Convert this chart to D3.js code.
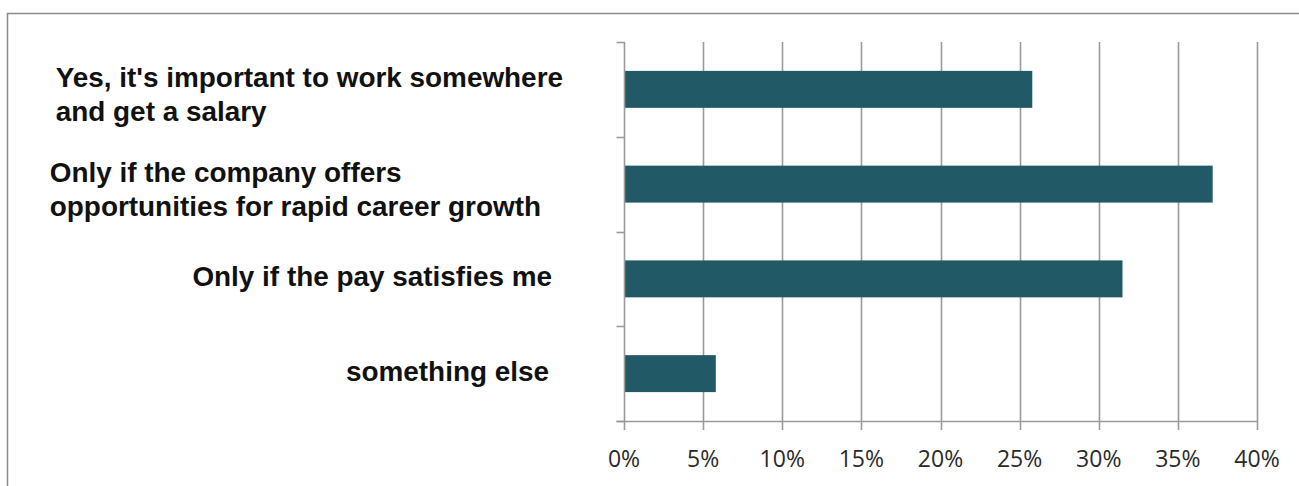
<!DOCTYPE html>
<html>
<head>
<meta charset="utf-8">
<script src="https://cdn.jsdelivr.net/npm/d3@7"></script>
<style>
  html, body { margin: 0; padding: 0; background: #fff; }
  svg { display: block; }
</style>
</head>
<body>
<svg id="chart" width="1299" height="486"></svg>
<script>
// Survey answers (multi-line labels split into lines)
const categories = [
  ["Yes, it's important to work somewhere", "and get a salary"],
  ["Only if the company offers", "opportunities for rapid career growth"],
  ["Only if the pay satisfies me"],
  ["something else"]
];
// Share of respondents per answer
const shares = [0.258, 0.372, 0.315, 0.058];
// Value axis ticks
const tickValues = [0, 0.05, 0.10, 0.15, 0.20, 0.25, 0.30, 0.35, 0.40];
const tickLabels = ["0%", "5%", "10%", "15%", "20%", "25%", "30%", "35%", "40%"];

// Layout
const plot = { left: 624, right: 1257, top: 42, bottom: 421 };
const labelRight = [563, 541, 552, 549];
const barColor = "#225967";
const gridColor = "#9a9a9a";

const svg = d3.select("#chart");

// Outer frame (runs off the right and bottom edges)
svg.append("rect")
  .attr("x", 7.5).attr("y", 13.5)
  .attr("width", 1320).attr("height", 520)
  .attr("fill", "none")
  .attr("stroke", "#8a8a8a")
  .attr("stroke-width", 1.5);

const x = d3.scaleLinear().domain([0, 0.40]).range([plot.left, plot.right]);
const y = d3.scaleBand()
  .domain(d3.range(categories.length))
  .range([plot.top, plot.bottom])
  .paddingInner(0.61)
  .paddingOuter(0.305);

// Vertical gridlines that continue below the axis as tick marks
svg.append("g")
  .selectAll("line")
  .data(tickValues.slice(1))
  .join("line")
  .attr("x1", d => Math.round(x(d)) + 0.5)
  .attr("x2", d => Math.round(x(d)) + 0.5)
  .attr("y1", plot.top)
  .attr("y2", plot.bottom + 9)
  .attr("stroke", gridColor)
  .attr("stroke-width", 1.6);

// Bars
svg.append("g")
  .selectAll("rect")
  .data(shares)
  .join("rect")
  .attr("x", x(0))
  .attr("y", (d, i) => y(i))
  .attr("width", d => x(d) - x(0))
  .attr("height", y.bandwidth())
  .attr("fill", barColor);

// Category axis with ticks at band boundaries
const yAxisX = Math.round(x(0)) + 0.5;
const boundaries = d3.range(categories.length + 1).map(i => plot.top + i * y.step());
const yAxisG = svg.append("g");
yAxisG.append("line")
  .attr("x1", yAxisX).attr("x2", yAxisX)
  .attr("y1", plot.top).attr("y2", plot.bottom + 9)
  .attr("stroke", gridColor).attr("stroke-width", 1.6);
yAxisG.selectAll("line.tick")
  .data(boundaries)
  .join("line")
  .attr("class", "tick")
  .attr("x1", yAxisX - 8).attr("x2", yAxisX)
  .attr("y1", d => Math.round(d) + 0.5)
  .attr("y2", d => Math.round(d) + 0.5)
  .attr("stroke", gridColor).attr("stroke-width", 1.6);

// Value axis line
svg.append("line")
  .attr("x1", yAxisX - 8).attr("x2", Math.round(x(0.40)) + 0.5)
  .attr("y1", plot.bottom + 0.5).attr("y2", plot.bottom + 0.5)
  .attr("stroke", gridColor).attr("stroke-width", 1.6);

// Value tick labels
svg.append("g")
  .selectAll("text")
  .data(tickValues)
  .join("text")
  .attr("x", d => x(d))
  .attr("y", 467)
  .attr("text-anchor", "middle")
  .attr("font-family", "'Open Sans', 'DejaVu Sans', sans-serif")
  .attr("font-size", 23)
  .attr("fill", "#2a2a2a")
  .text((d, i) => tickLabels[i]);

// Category labels: lines left-aligned inside a block placed left of the axis
const lineHeight = 34;
const labelG = svg.append("g")
  .attr("font-family", "'Liberation Sans', Arial, sans-serif")
  .attr("font-weight", "bold")
  .attr("font-size", 27.9)
  .attr("fill", "#111");

categories.forEach((lines, i) => {
  const cy = y(i) + y.bandwidth() / 2;
  const firstBaseline = lines.length > 1 ? cy - 2.5 : cy + 7;
  const t = labelG.append("text");
  lines.forEach((ln, k) => {
    t.append("tspan")
      .attr("y", firstBaseline + k * lineHeight)
      .text(ln);
  });
  const spans = t.selectAll("tspan").nodes();
  const w = d3.max(spans, n => n.getComputedTextLength());
  t.selectAll("tspan").attr("x", labelRight[i] - w);
});
</script>
</body>
</html>
